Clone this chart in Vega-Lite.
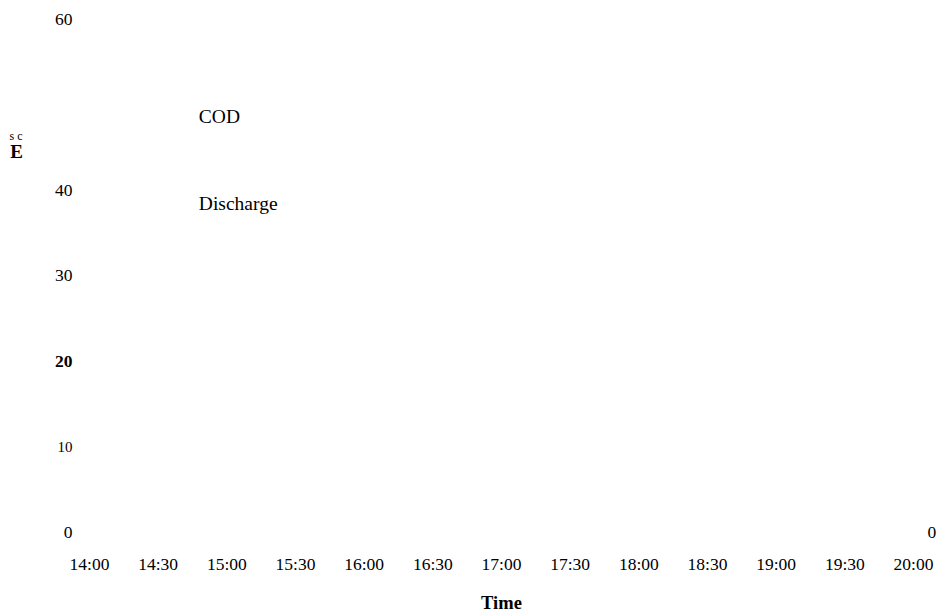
{
  "$schema": "https://vega.github.io/schema/vega-lite/v6.json",
  "width": 824,
  "height": 513,
  "autosize": {"type": "none"},
  "padding": {"left": 89, "top": 19, "right": 26, "bottom": 81},
  "background": "white",
  "config": {
    "view": {"stroke": null},
    "font": "Liberation Serif",
    "axis": {
      "domain": false,
      "ticks": false,
      "grid": false,
      "labelColor": "#000000",
      "titleColor": "#000000",
      "labelFont": "Liberation Serif",
      "titleFont": "Liberation Serif",
      "labelFontSize": 17.5
    }
  },
  "resolve": {"scale": {"y": "independent"}},
  "layer": [
    {
      "data": {"values": [{"series": "COD", "time": "2020-01-01T14:48", "level": 48.5}]},
      "mark": {"type": "text", "align": "left", "baseline": "middle", "fontSize": 19.5, "color": "#000000"},
      "encoding": {
        "x": {
          "field": "time",
          "type": "temporal",
          "scale": {
            "domain": [
              {"year": 2020, "month": 1, "date": 1, "hours": 14},
              {"year": 2020, "month": 1, "date": 1, "hours": 20}
            ]
          },
          "axis": {
            "title": "Time",
            "format": "%H:%M",
            "tickCount": 12,
            "labelBaseline": "alphabetic",
            "labelPadding": 37.5,
            "labelFlush": false,
            "labelOverlap": false,
            "titleFontWeight": "bold",
            "titleFontSize": 18.5,
            "titleBaseline": "alphabetic",
            "titleY": 76
          }
        },
        "y": {
          "field": "level",
          "type": "quantitative",
          "scale": {"domain": [0, 60], "nice": false},
          "axis": {
            "orient": "left",
            "values": [0, 10, 20, 30, 40, 60],
            "labelPadding": 17,
            "labelBaseline": "middle",
            "labelFlush": false,
            "labelOverlap": false,
            "labelFontSize": {"condition": {"test": "datum.value == 10", "value": 15}, "value": 17.5},
            "labelFontWeight": {"condition": {"test": "datum.value == 20", "value": "bold"}, "value": "normal"},
            "title": "E",
            "titleAngle": 0,
            "titleFontWeight": "bold",
            "titleFontSize": 19,
            "titleAlign": "center",
            "titleBaseline": "middle",
            "titleX": -73,
            "titleY": 132
          }
        },
        "text": {"field": "series"}
      }
    },
    {
      "data": {"values": [{"series": "Discharge", "time": "2020-01-01T14:48", "level": 38.4}]},
      "mark": {"type": "text", "align": "left", "baseline": "middle", "fontSize": 19.5, "color": "#000000"},
      "encoding": {
        "x": {"field": "time", "type": "temporal"},
        "y": {
          "field": "level",
          "type": "quantitative",
          "scale": {"domain": [0, 60], "nice": false},
          "axis": {
            "orient": "right",
            "values": [0],
            "labelPadding": 14,
            "labelBaseline": "middle",
            "labelFlush": false,
            "title": "s c",
            "titleAngle": 0,
            "titleFontWeight": "normal",
            "titleFontSize": 12,
            "titleAlign": "center",
            "titleBaseline": "middle",
            "titleX": -897.5,
            "titleY": 116
          }
        },
        "text": {"field": "series"}
      }
    }
  ]
}
